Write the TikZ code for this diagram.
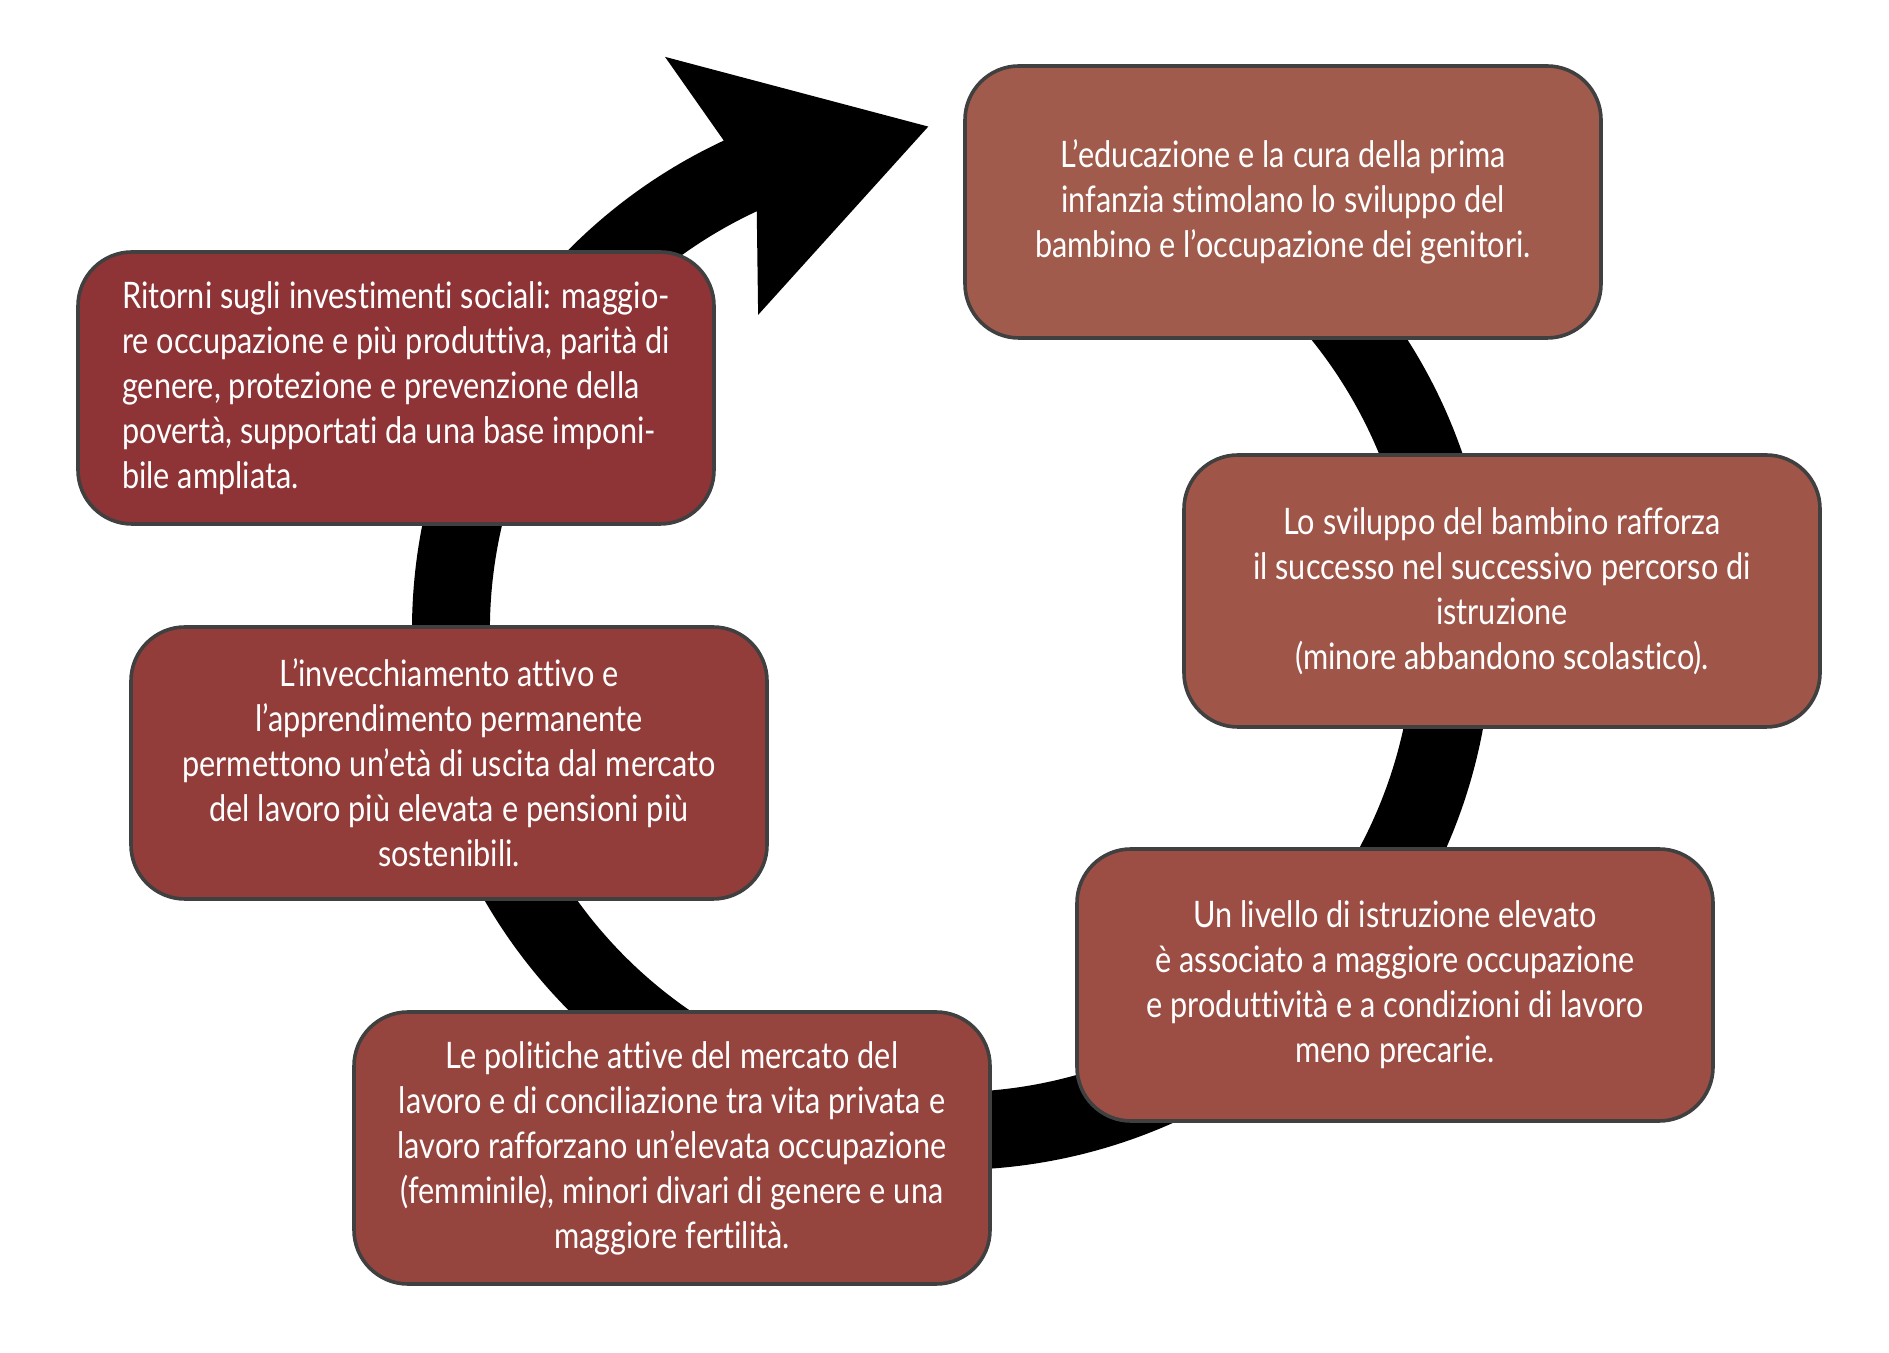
\documentclass[tikz,border=0pt]{standalone}
\usepackage{fontspec}
\setmainfont{Lato}[FakeStretch=0.84, Ligatures=NoCommon]
\usetikzlibrary{positioning}
\definecolor{boxline}{HTML}{404040}
\definecolor{redA}{HTML}{A15B4C}
\definecolor{redB}{HTML}{9F5548}
\definecolor{redC}{HTML}{9C4E44}
\definecolor{redD}{HTML}{96443E}
\definecolor{redE}{HTML}{933D3B}
\definecolor{redF}{HTML}{8E3336}

\begin{document}
\begin{tikzpicture}[x=1pt, y=1pt, box/.style={rounded corners=54pt, draw=boxline, line width=3.6pt, minimum width=636pt, minimum height=272pt, text=white, font=\fontsize{36.5}{45}\selectfont, align=center}]
    \useasboundingbox (0,0) rectangle (1889,1352);

    %Cycle arrow
    \fill[black, shift={(952,722)}] (45:540) arc[start angle=45, end angle=-245, radius=540]
        -- (-243.4:641) -- (-267.3:504) -- (-238.4:370) -- (-245:462)
        arc[start angle=-245, end angle=45, radius=462] -- cycle;

    %Nodes
    \node[box, fill=redA](educazione) at (1283,1150){L’educazione e la cura della prima\\ infanzia stimolano lo sviluppo del\\ bambino e l’occupazione dei genitori.};
    \node[box, fill=redB](sviluppo) at (1502,761){Lo sviluppo del bambino rafforza\\ il successo nel successivo percorso di\\ istruzione\\ (minore abbandono scolastico).};
    \node[box, fill=redC](istruzione) at (1395,367){Un livello di istruzione elevato\\ è associato a maggiore occupazione\\ e produttività e a condizioni di lavoro\\ meno precarie.};
    \node[box, fill=redD](politiche) at (672,204){Le politiche attive del mercato del\\ lavoro e di conciliazione tra vita privata e\\ lavoro rafforzano un’elevata occupazione\\ (femminile), minori divari di genere e una\\ maggiore fertilità.};
    \node[box, fill=redE](invecchiamento) at (449,589){L’invecchiamento attivo e\\ l’apprendimento permanente\\ permettono un’età di uscita dal mercato\\ del lavoro più elevata e pensioni più\\ sostenibili.};
    \node[box, fill=redF, align=left](ritorni) at (396,964){Ritorni sugli investimenti sociali: maggio-\\ re occupazione e più produttiva, parità di\\ genere, protezione e prevenzione della\\ povertà, supportati da una base imponi-\\ bile ampliata.};

\end{tikzpicture}
\end{document}
